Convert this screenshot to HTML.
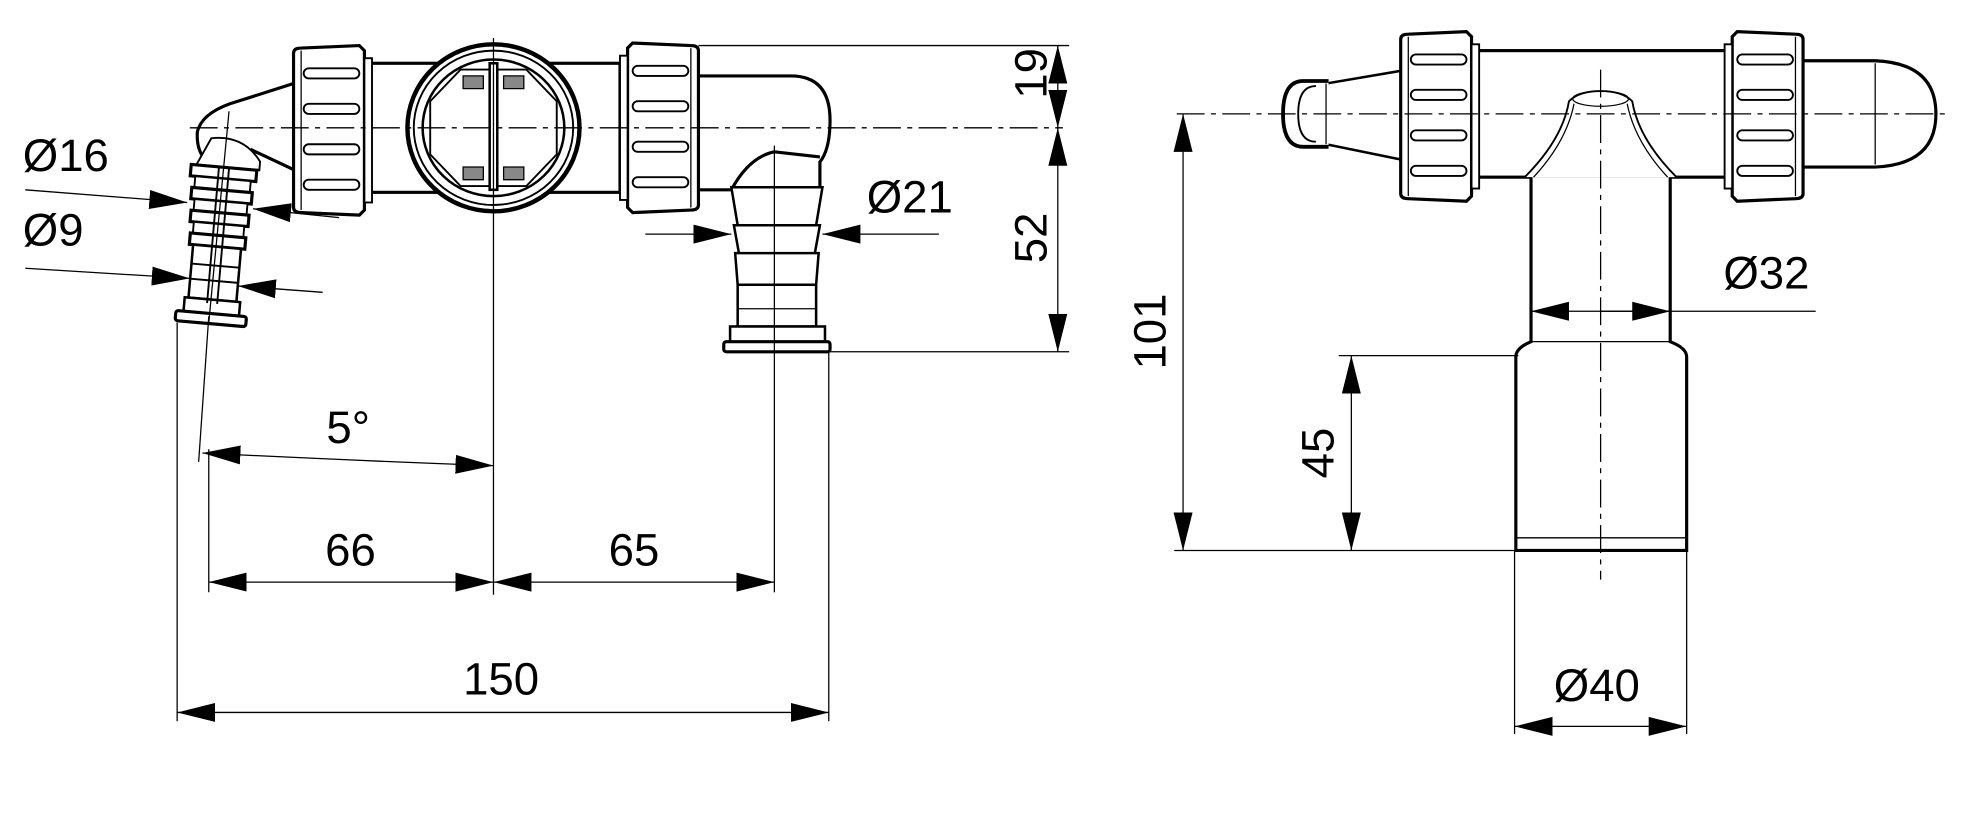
<!DOCTYPE html>
<html><head><meta charset="utf-8"><style>
html,body{margin:0;padding:0;background:#fff;}
svg{display:block;}
text{font-family:"Liberation Sans",sans-serif;fill:#000;}
</style></head><body>
<svg width="1984" height="820" viewBox="0 0 1568 648" preserveAspectRatio="none" xmlns="http://www.w3.org/2000/svg">
<defs>
<marker id="ar" markerUnits="userSpaceOnUse" markerWidth="30" markerHeight="16" refX="28" refY="7" orient="auto-start-reverse" viewBox="0 0 28 14">
<path d="M0,0 L28,7 L0,14 Z" fill="#000"/></marker>
<g id="nut" fill="#fff" stroke="#000">
<path d="M4,4 Q4,0 10,0 L56,-2 L60,2 L60,128 L56,132 L10,130 Q4,130 4,126 Z" stroke-width="2.5"/>
<line x1="10" y1="2" x2="10" y2="128" stroke-width="1"/>
<rect x="60" y="8" width="6" height="114" stroke-width="1.5"/>
<rect x="12" y="16" width="44" height="8" rx="4" stroke-width="1.5"/>
<rect x="12" y="44" width="44" height="8" rx="4" stroke-width="1.5"/>
<rect x="12" y="76" width="44" height="8" rx="4" stroke-width="1.5"/>
<rect x="12" y="104" width="44" height="8" rx="4" stroke-width="1.5"/>
</g>
</defs>
<g fill="none" stroke="#000">
<rect x="290" y="50" width="200" height="102" fill="#fff" stroke-width="2.5"/>
<path d="M552,60 L625,60 Q656,60 656,95 Q656,118 648,128 L648,148 M552,150 L578,150 Q592,124 612,120 L648,124" stroke-width="2.5" fill="#fff"/>
<path d="M578,148 L650,148 L645,178 L583,178 Z M580,178 L648,178 L644,200 L584,200 Z M581,200 L647,200 L645,225 L583,225 Z M583,225 L645,225 L645,258 L583,258 Z" fill="#fff" stroke-width="2"/>
<line x1="583" y1="244" x2="645" y2="244" stroke-width="1"/>
<rect x="577" y="258" width="75" height="13" fill="#fff" stroke-width="2"/>
<rect x="572" y="270" width="84" height="8" rx="2" fill="#fff" stroke-width="2.5"/>
<path d="M232,66 L188,80 Q160,88 156,104 Q155,118 162,126 M232,134 L198,118" stroke-width="2.5" fill="#fff"/>
<g transform="rotate(5 172 190)">
<path d="M160,110 Q185,105 200,125 L200,132 L150,132 Z" fill="#fff" stroke-width="1.5"/>
<rect x="146" y="132" width="52" height="9" fill="#fff" stroke-width="2.5"/>
<rect x="150" y="141" width="44" height="9" fill="#fff" stroke-width="1.5"/>
<rect x="148" y="150" width="48" height="9" fill="#fff" stroke-width="2.5"/>
<rect x="151" y="159" width="42" height="9" fill="#fff" stroke-width="1.5"/>
<rect x="149" y="168" width="46" height="9" fill="#fff" stroke-width="2.5"/>
<rect x="152" y="177" width="40" height="9" fill="#fff" stroke-width="1.5"/>
<rect x="150" y="186" width="44" height="9" fill="#fff" stroke-width="2.5"/>
<rect x="153" y="195" width="38" height="42" fill="#fff" stroke-width="2"/>
<line x1="153" y1="210" x2="191" y2="210" stroke-width="1.5"/>
<line x1="153" y1="222" x2="191" y2="222" stroke-width="1.5"/>
<rect x="150" y="237" width="44" height="11" fill="#fff" stroke-width="2"/>
<rect x="144" y="248" width="56" height="8" rx="2" fill="#fff" stroke-width="2.5"/>
<line x1="168" y1="132" x2="168" y2="240" stroke-width="1.5"/>
<line x1="176" y1="132" x2="176" y2="240" stroke-width="1.5"/>
</g>
<use href="#nut" x="228" y="38"/>
<use href="#nut" transform="translate(556,36) scale(-1,1)"/>
<ellipse cx="390" cy="101" rx="68" ry="66" fill="#fff" stroke-width="3.5"/>
<ellipse cx="390" cy="101" rx="63" ry="61" stroke-width="1.5"/>
<ellipse cx="390" cy="101" rx="56" ry="54" stroke-width="2"/>
<path d="M364,55 L416,55 L440,80 L440,122 L416,147 L364,147 L340,122 L340,80 Z" stroke-width="1.5"/>
<path d="M366,60 L382,60 L382,70 L366,70 Z M398,60 L414,60 L414,70 L398,70 Z M366,132 L382,132 L382,142 L366,142 Z M398,132 L414,132 L414,142 L398,142 Z" fill="#888" stroke-width="1"/>
<rect x="387" y="50" width="6" height="100" fill="#fff" stroke-width="2"/>
<line x1="150" y1="101" x2="840" y2="101" stroke-width="1" stroke-dasharray="22,5,4,5"/>
<line x1="390" y1="30" x2="390" y2="470" stroke-width="1"/>
<line x1="612" y1="115" x2="612" y2="468" stroke-width="1"/>
<line x1="181" y1="88" x2="165" y2="255" stroke-width="1"/>
<line x1="552" y1="36" x2="845" y2="36" stroke-width="1"/>
<line x1="656" y1="278" x2="845" y2="278" stroke-width="1"/>
<line x1="836" y1="36" x2="836" y2="101" stroke-width="1" marker-start="url(#ar)" marker-end="url(#ar)"/>
<line x1="836" y1="101" x2="836" y2="278" stroke-width="1" marker-start="url(#ar)" marker-end="url(#ar)"/>
<line x1="20" y1="150" x2="148" y2="160" stroke-width="1" marker-end="url(#ar)"/>
<line x1="268" y1="172" x2="200" y2="165" stroke-width="1" marker-end="url(#ar)"/>
<line x1="20" y1="212" x2="150" y2="220" stroke-width="1" marker-end="url(#ar)"/>
<line x1="255" y1="231" x2="188" y2="226" stroke-width="1" marker-end="url(#ar)"/>
<line x1="510" y1="185" x2="578" y2="185" stroke-width="1" marker-end="url(#ar)"/>
<line x1="742" y1="185" x2="650" y2="185" stroke-width="1" marker-end="url(#ar)"/>
<line x1="140" y1="255" x2="140" y2="570" stroke-width="1"/>
<line x1="165" y1="250" x2="157" y2="365" stroke-width="1"/>
<line x1="165" y1="355" x2="165" y2="468" stroke-width="1"/>
<line x1="655" y1="278" x2="655" y2="570" stroke-width="1"/>
<path d="M160,358 Q280,364 390,368" stroke-width="1" marker-start="url(#ar)" marker-end="url(#ar)"/>
<line x1="165" y1="460" x2="390" y2="460" stroke-width="1" marker-start="url(#ar)" marker-end="url(#ar)"/>
<line x1="390" y1="460" x2="612" y2="460" stroke-width="1" marker-start="url(#ar)" marker-end="url(#ar)"/>
<line x1="140" y1="563" x2="655" y2="563" stroke-width="1" marker-start="url(#ar)" marker-end="url(#ar)"/>

<rect x="1165" y="40" width="200" height="100" fill="#fff" stroke-width="2.5"/>
<path d="M1107,56 L1048,66 L1048,114 L1107,126" fill="#fff" stroke-width="2"/>
<path d="M1050,64 L1030,64 Q1014,64 1014,90 Q1014,116 1030,116 L1050,116" fill="#fff" stroke-width="3"/>
<path d="M1040,68 Q1026,68 1026,90 Q1026,112 1040,112" stroke-width="1.5"/>
<line x1="1048" y1="66" x2="1048" y2="114" stroke-width="1"/>
<path d="M1425,48 L1482,48 Q1530,50 1530,90 Q1530,130 1482,132 L1425,132" fill="#fff" stroke-width="2.5"/>
<line x1="1482" y1="50" x2="1482" y2="130" stroke-width="1"/>
<path d="M1210,140 L1210,270 Q1198,275 1198,282 L1198,435 L1333,435 L1333,282 Q1333,275 1320,270 L1320,140" fill="#fff" stroke-width="2.5"/>
<line x1="1210" y1="270" x2="1320" y2="270" stroke-width="1"/>
<line x1="1198" y1="425" x2="1333" y2="425" stroke-width="1"/>
<path d="M1205,140 Q1235,110 1240,80 Q1248,72 1265,72 Q1282,72 1290,80 Q1295,110 1325,140" fill="#fff" stroke-width="1.5"/>
<path d="M1212,140 Q1238,112 1244,82 M1286,82 Q1292,112 1318,140" stroke-width="1"/>
<ellipse cx="1265" cy="78" rx="22" ry="6" stroke-width="1"/>
<use href="#nut" x="1103" y="27"/>
<use href="#nut" transform="translate(1429,27) scale(-1,1)"/>
<line x1="930" y1="90" x2="1540" y2="90" stroke-width="1" stroke-dasharray="22,5,4,5"/>
<line x1="1265" y1="55" x2="1265" y2="458" stroke-width="1" stroke-dasharray="22,5,4,5"/>
<line x1="1210" y1="246" x2="1435" y2="246" stroke-width="1" marker-start="url(#ar)"/>
<path d="M1265,246 L1320,246" stroke-width="1" marker-end="url(#ar)"/>
<line x1="1058" y1="281" x2="1200" y2="281" stroke-width="1"/>
<line x1="928" y1="435" x2="1200" y2="435" stroke-width="1"/>
<line x1="935" y1="90" x2="935" y2="435" stroke-width="1" marker-start="url(#ar)" marker-end="url(#ar)"/>
<line x1="1068" y1="281" x2="1068" y2="435" stroke-width="1" marker-start="url(#ar)" marker-end="url(#ar)"/>
<line x1="1197" y1="435" x2="1197" y2="580" stroke-width="1"/>
<line x1="1333" y1="435" x2="1333" y2="580" stroke-width="1"/>
<line x1="1197" y1="574" x2="1333" y2="574" stroke-width="1" marker-start="url(#ar)" marker-end="url(#ar)"/>
</g>
<g font-size="36">
<text x="18" y="135">Ø16</text>
<text x="18" y="194">Ø9</text>
<text x="685" y="168">Ø21</text>
<text x="258" y="350">5°</text>
<text x="257" y="447">66</text>
<text x="481" y="447">65</text>
<text x="366" y="549">150</text>
<text transform="translate(827,58) rotate(-90)" text-anchor="middle">19</text>
<text transform="translate(827,188) rotate(-90)" text-anchor="middle">52</text>
<text x="1362" y="228">Ø32</text>
<text transform="translate(921,262) rotate(-90)" text-anchor="middle">101</text>
<text transform="translate(1054,358) rotate(-90)" text-anchor="middle">45</text>
<text x="1228" y="554">Ø40</text>
</g>
</svg>
</body></html>
